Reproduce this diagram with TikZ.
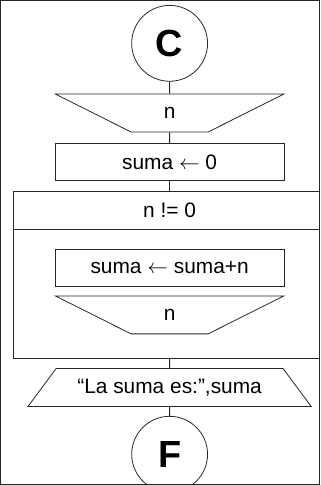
\documentclass[tikz,border=0pt]{standalone}
\usepackage{fontspec}
\setmainfont{Liberation Sans}
\usetikzlibrary{positioning, shapes.geometric}

\begin{document}
\begin{tikzpicture}[
  x=1bp, y=1bp,
  font=\fontsize{21}{25}\selectfont,
  every path/.style={line width=0.8pt, draw=black!85},
  term/.style={draw, circle, minimum size=76bp, inner sep=0pt, font=\fontsize{38}{40}\selectfont\bfseries},
  inbox/.style={draw, trapezium, trapezium angle=45, shape border rotate=180, trapezium stretches=true, minimum width=229bp, minimum height=38bp},
  outbox/.style={draw, trapezium, trapezium angle=45, trapezium stretches=true, minimum width=284bp, minimum height=38bp},
  proc/.style={draw, rectangle, minimum width=229bp, minimum height=37bp}
]
  \useasboundingbox (0,0) rectangle (320,-485);
  \coordinate (wl) at (13,0);
  \coordinate (wr) at (320,0);

  \node[term] (C) at (169.5,-43) {C};
  \node[inbox, below=12bp of C] (rd1) {n};
  \node[proc, below=11bp of rd1] (init) {suma $\leftarrow$ 0};
  \node[minimum height=38bp, below=10bp of init] (cond) {n != 0};
  \node[proc, below=19bp of cond] (acc) {suma $\leftarrow$ suma+n};
  \node[inbox, below=9bp of acc] (rd2) {n};
  \coordinate[below=24bp of rd2] (wb);
  \node[outbox, below=10bp of wb] (out) {“La suma es:”,suma};
  \node[term, below=9bp of out] (F) {F};

  % bucle mientras
  \draw (wr |- cond.north) -- (wl |- cond.north) -- (wl |- wb) -- (wr |- wb);
  \draw (wl |- cond.south) -- (wr |- cond.south);

  \draw (C) -- (rd1);
  \draw (rd1) -- (init);
  \draw (init) -- (cond);
  \draw (wb) -- (out);
  \draw (out) -- (F);
\end{tikzpicture}
\end{document}
